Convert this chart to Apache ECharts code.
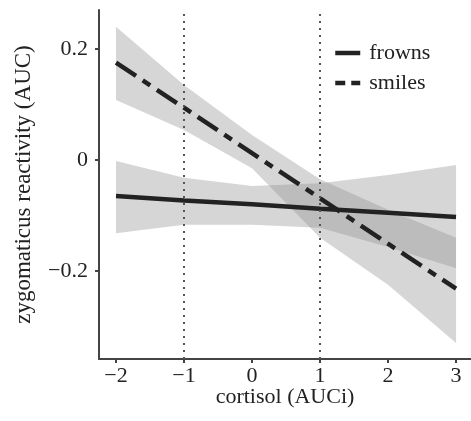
<!DOCTYPE html>
<html>
<head>
<meta charset="utf-8">
<script src="https://cdn.jsdelivr.net/npm/echarts@6/dist/echarts.min.js"></script>
<style>
  html, body { margin: 0; padding: 0; background: #fff; }
  #chart { width: 471px; height: 421px; }
</style>
</head>
<body>
<div id="chart"></div>
<script>
var xs = [-2, -1, 0, 1, 2, 3];

// fitted lines
var frownsFit = [-0.065, -0.073, -0.080, -0.088, -0.095, -0.103];
var smilesFit = [0.175, 0.094, 0.012, -0.069, -0.151, -0.232];

// confidence bands
var frownsLo = [-0.132, -0.117, -0.117, -0.122, -0.157, -0.195];
var frownsHi = [-0.002, -0.032, -0.047, -0.042, -0.027, -0.009];
var smilesLo = [0.108, 0.054, -0.015, -0.140, -0.225, -0.330];
var smilesHi = [0.240, 0.135, 0.045, -0.035, -0.090, -0.140];

// reference lines and ticks
var refLines = [-1, 1];
var xTicks = [-2, -1, 0, 1, 2, 3];
var yTicks = [-0.2, 0, 0.2];

var FONT = 'Liberation Serif';
var INK = '#222';

function pairs(a) {
    return xs.map(function (x, i) { return [x, a[i]]; });
}
function rows(lo, hi) {
    return xs.map(function (x, i) { return [x, lo[i], hi[i]]; });
}
function fmt(v) {
    if (v === 0) return '0';
    return (v < 0 ? '\u2212' : '') + Math.abs(v);
}

// band polygon: upper edge left to right, lower edge back
function bandSeries(name, data) {
    return {
        name: name, type: 'custom', data: data, silent: true, z: 1,
        renderItem: function (params, api) {
            if (params.dataIndex !== 0) return;
            var top = [], bot = [];
            for (var i = 0; i < data.length; i++) {
                top.push(api.coord([data[i][0], data[i][2]]));
                bot.unshift(api.coord([data[i][0], data[i][1]]));
            }
            return {
                type: 'polygon',
                shape: { points: top.concat(bot) },
                style: { fill: '#8c8c8c', opacity: 0.36 }
            };
        },
        encode: { x: 0, y: [1, 2] }
    };
}

var chart = echarts.init(document.getElementById('chart'));

var option = {
    animation: false,
    backgroundColor: '#fff',
    grid: { left: 99, right: 0, top: 10, bottom: 62, containLabel: false },
    legend: {
        orient: 'vertical',
        left: 333, top: 42, padding: 0,
        itemWidth: 25, itemHeight: 14, itemGap: 8,
        itemStyle: { opacity: 0 },
        textStyle: { fontFamily: FONT, fontSize: 22, color: INK, padding: [0, 0, 0, 4] },
        data: [
            { name: 'frowns', lineStyle: { width: 4.5, color: INK } },
            { name: 'smiles', lineStyle: { width: 4.5, color: INK, type: [10, 6] } }
        ]
    },
    xAxis: {
        type: 'value', min: -2.25, max: 3.22,
        name: 'cortisol (AUCi)', nameLocation: 'middle', nameGap: 27,
        nameMoveOverlap: false,
        nameTextStyle: { fontFamily: FONT, fontSize: 22, color: INK },
        splitLine: { show: false },
        axisLine: { show: true, onZero: false, lineStyle: { color: '#444', width: 2 } },
        axisTick: { show: true, length: 4, customValues: xTicks, lineStyle: { color: '#444', width: 2 } },
        axisLabel: {
            customValues: xTicks, margin: 6,
            fontFamily: FONT, fontSize: 22, color: INK,
            formatter: function (v) { return fmt(v); }
        }
    },
    yAxis: {
        type: 'value', min: -0.3586, max: 0.27,
        name: 'zygomaticus reactivity (AUC)', nameLocation: 'middle', nameGap: 64,
        nameTextStyle: { fontFamily: FONT, fontSize: 23, color: INK },
        splitLine: { show: false },
        axisLine: { show: true, onZero: false, lineStyle: { color: '#444', width: 2 } },
        axisTick: { show: true, length: 4, customValues: yTicks, lineStyle: { color: '#444', width: 2 } },
        axisLabel: {
            customValues: yTicks, margin: 11,
            fontFamily: FONT, fontSize: 22, color: INK,
            formatter: function (v) { return fmt(Math.round(v * 10) / 10); }
        }
    },
    series: [
        bandSeries('frownsBand', rows(frownsLo, frownsHi)),
        bandSeries('smilesBand', rows(smilesLo, smilesHi)),
        {
            name: 'refs', type: 'line', data: [], silent: true, z: 2,
            markLine: {
                silent: true, symbol: 'none', label: { show: false },
                lineStyle: { color: '#555', width: 2, type: [2, 5] },
                data: refLines.map(function (x) { return { xAxis: x }; })
            }
        },
        {
            name: 'frowns', type: 'line', data: pairs(frownsFit),
            symbol: 'none', z: 3, color: INK,
            lineStyle: { color: INK, width: 4.5 }
        },
        {
            name: 'smiles', type: 'line', data: pairs(smilesFit),
            symbol: 'none', z: 3, color: INK,
            lineStyle: { color: INK, width: 4.5, type: [24, 8, 9, 8] }
        }
    ]
};

chart.setOption(option);
</script>
</body>
</html>
